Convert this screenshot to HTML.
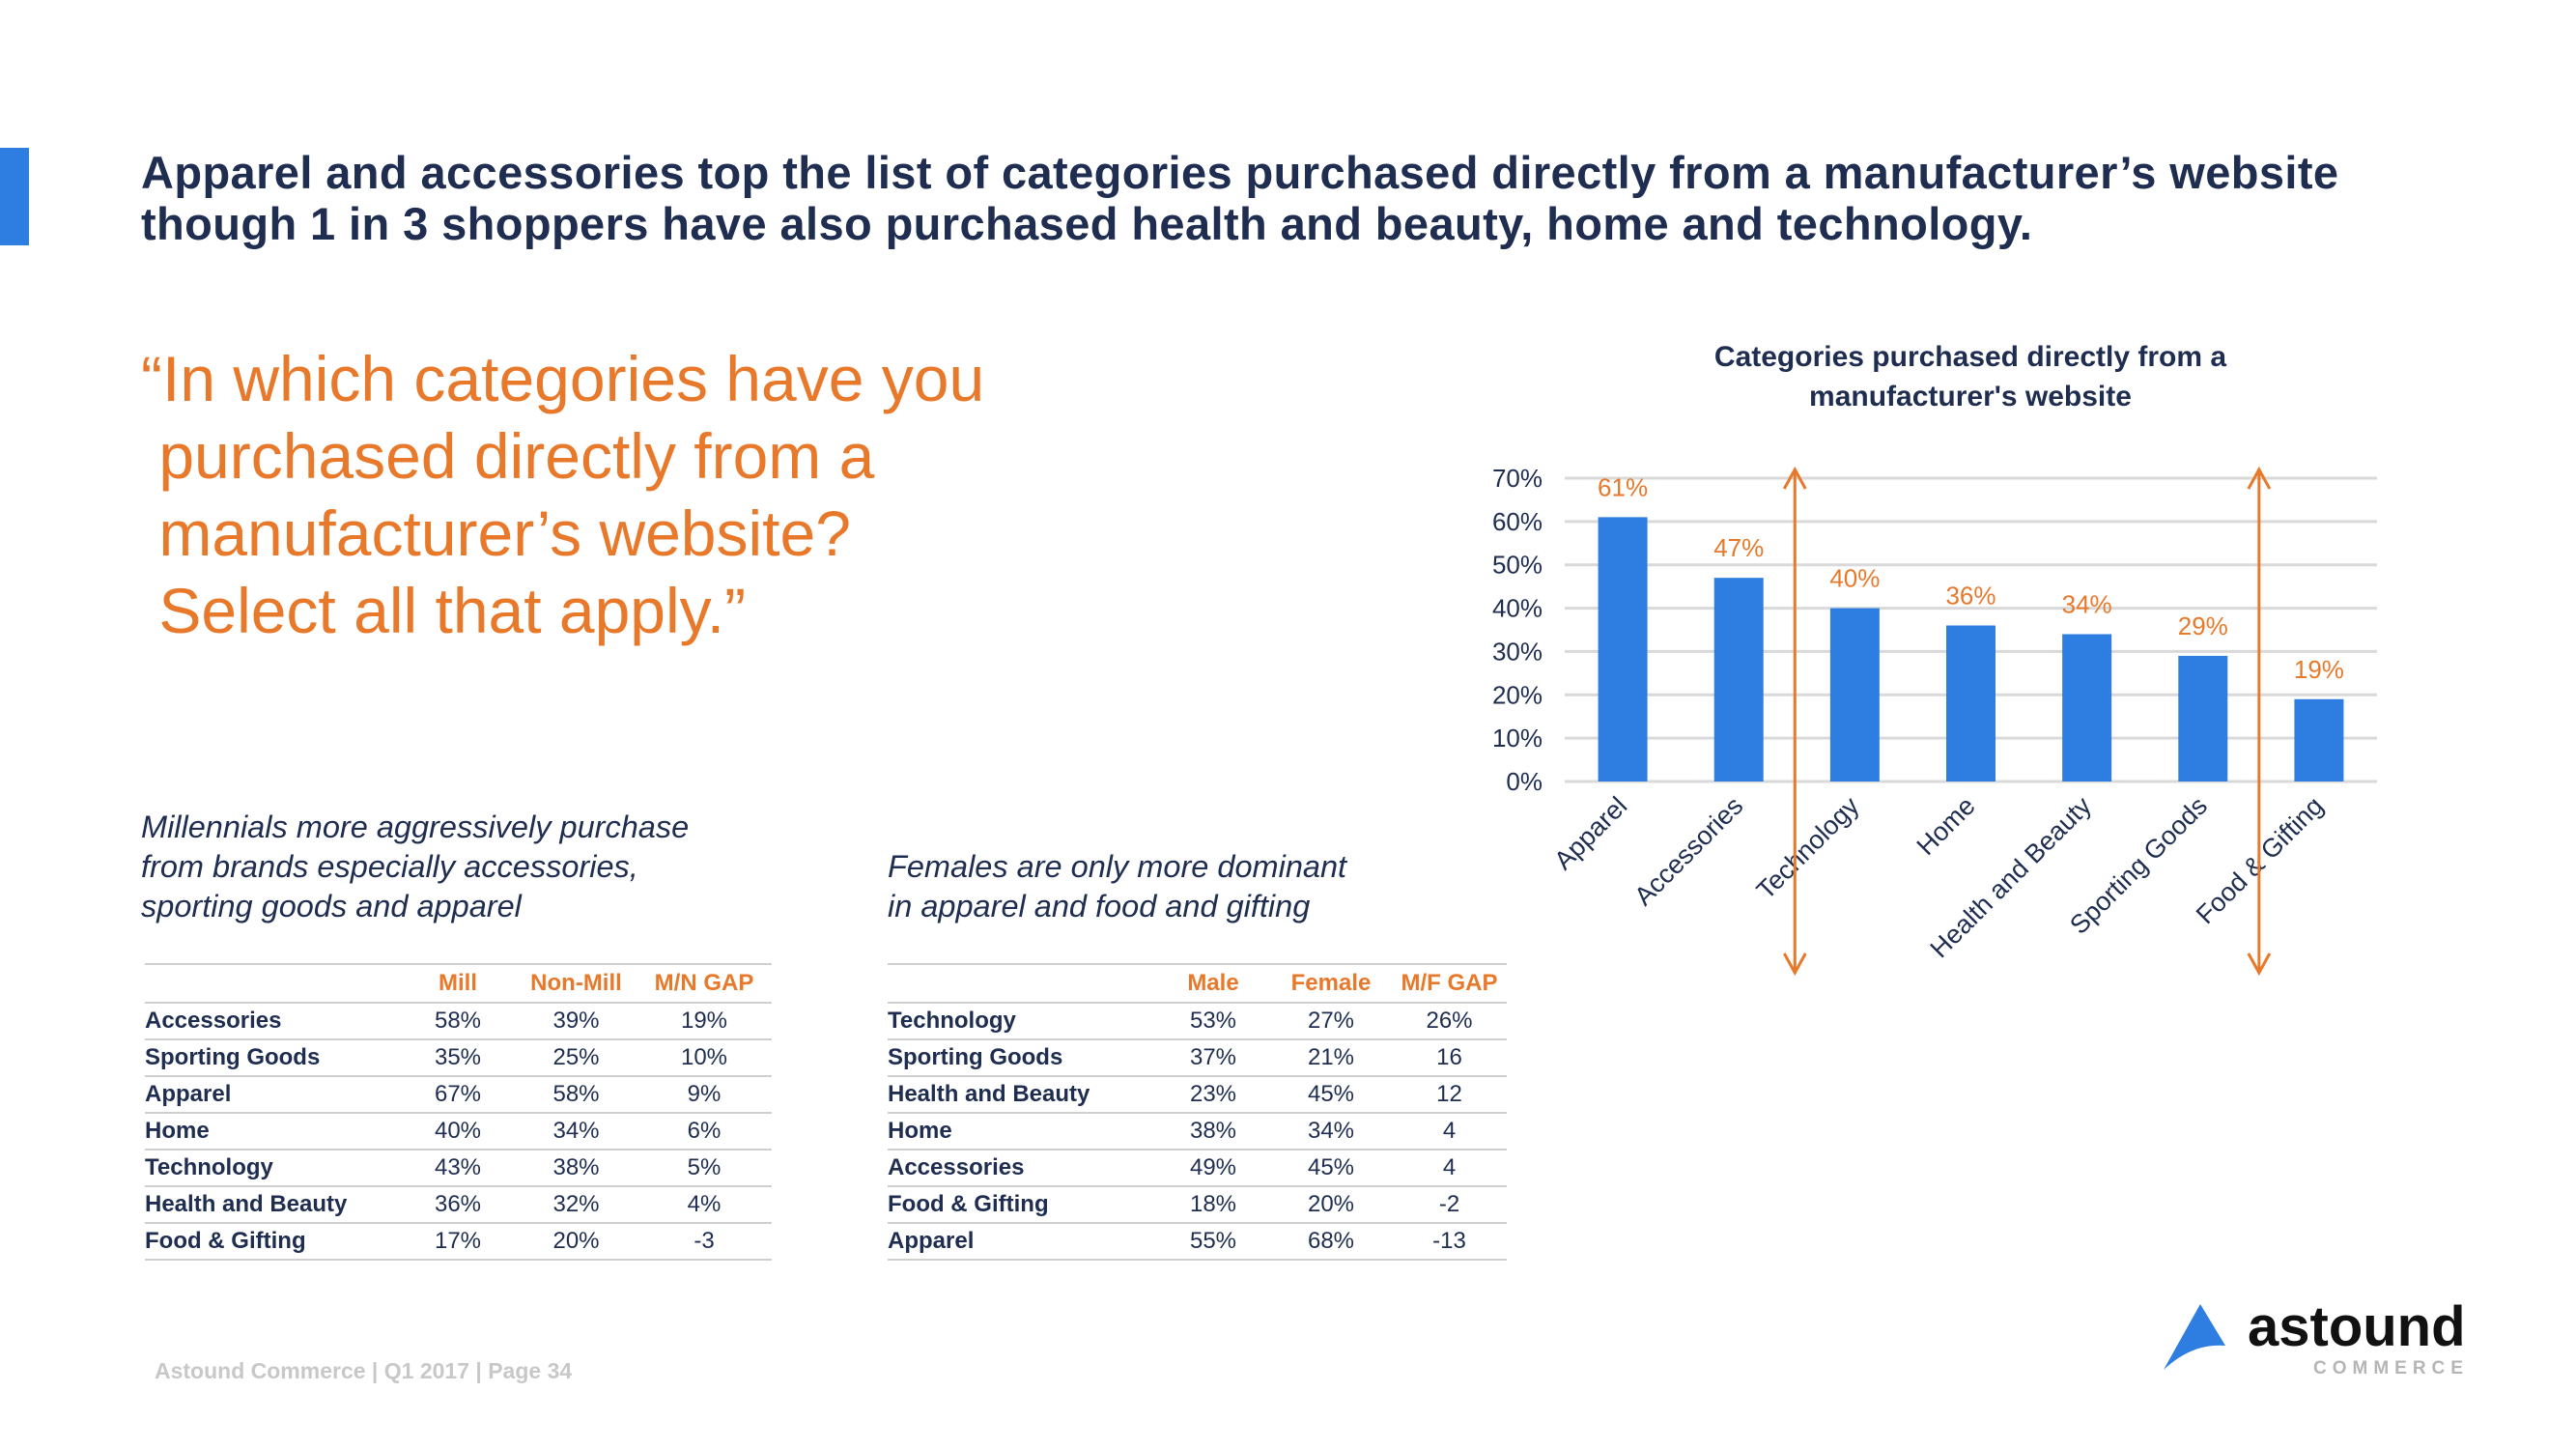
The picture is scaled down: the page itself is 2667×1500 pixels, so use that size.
<!DOCTYPE html>
<html><head><meta charset="utf-8">
<style>
body{margin:0;width:2667px;height:1500px;background:#fff;position:relative;overflow:hidden;font-family:"Liberation Sans",sans-serif;}
.a{position:absolute;white-space:nowrap;}
.title{left:146px;top:152px;font-size:47px;letter-spacing:0.4px;font-weight:bold;color:#1e2d50;line-height:53px;}
.quote{left:146px;top:352px;font-size:66px;color:#e8782a;line-height:80px;white-space:pre;}
.sub{font-size:32.5px;font-style:italic;color:#1e2d50;line-height:41px;}
table{position:absolute;border-collapse:collapse;font-size:24px;color:#1e2d50;}
td,th{height:36px;padding:0;border-bottom:2px solid #cfcfcf;text-align:center;}
th{color:#e8782a;font-weight:bold;height:38px;}
tr:first-child th{border-top:2px solid #cfcfcf;}
td.n{text-align:left;font-weight:bold;}
</style></head><body>
<div class="a" style="left:0;top:153px;width:30px;height:101px;background:#2e7de0;"></div>
<div class="a title">Apparel and accessories top the list of categories purchased directly from a manufacturer’s website<br>though 1 in 3 shoppers have also purchased health and beauty, home and technology.</div>
<div class="a quote">“In which categories have you
 purchased directly from a
 manufacturer’s website?
 Select all that apply.”</div>
<div class="a sub" style="left:146px;top:836px;">Millennials more aggressively purchase<br>from brands especially accessories,<br>sporting goods and apparel</div>
<div class="a sub" style="left:919px;top:877px;">Females are only more dominant<br>in apparel and food and gifting</div>

<table style="left:150px;top:997px;width:649px;">
<tr><th style="width:264px"></th><th style="width:120px">Mill</th><th style="width:125px">Non-Mill</th><th>M/N GAP</th></tr>
<tr><td class="n">Accessories</td><td>58%</td><td>39%</td><td>19%</td></tr>
<tr><td class="n">Sporting Goods</td><td>35%</td><td>25%</td><td>10%</td></tr>
<tr><td class="n">Apparel</td><td>67%</td><td>58%</td><td>9%</td></tr>
<tr><td class="n">Home</td><td>40%</td><td>34%</td><td>6%</td></tr>
<tr><td class="n">Technology</td><td>43%</td><td>38%</td><td>5%</td></tr>
<tr><td class="n">Health and Beauty</td><td>36%</td><td>32%</td><td>4%</td></tr>
<tr><td class="n">Food &amp; Gifting</td><td>17%</td><td>20%</td><td>-3</td></tr>
</table>
<table style="left:919px;top:997px;width:641px;">
<tr><th style="width:278px"></th><th style="width:118px">Male</th><th style="width:126px">Female</th><th>M/F GAP</th></tr>
<tr><td class="n">Technology</td><td>53%</td><td>27%</td><td>26%</td></tr>
<tr><td class="n">Sporting Goods</td><td>37%</td><td>21%</td><td>16</td></tr>
<tr><td class="n">Health and Beauty</td><td>23%</td><td>45%</td><td>12</td></tr>
<tr><td class="n">Home</td><td>38%</td><td>34%</td><td>4</td></tr>
<tr><td class="n">Accessories</td><td>49%</td><td>45%</td><td>4</td></tr>
<tr><td class="n">Food &amp; Gifting</td><td>18%</td><td>20%</td><td>-2</td></tr>
<tr><td class="n">Apparel</td><td>55%</td><td>68%</td><td>-13</td></tr>
</table>

<svg id="chart" class="a" style="left:0;top:0" width="2667" height="1500" xmlns="http://www.w3.org/2000/svg">
<text x="2040" y="379" text-anchor="middle" font-size="30" font-weight="bold" fill="#1e2d50">Categories purchased directly from a</text>
<text x="2040" y="420" text-anchor="middle" font-size="30" font-weight="bold" fill="#1e2d50">manufacturer's website</text>
</svg>

<div class="a" style="left:160px;top:1406px;font-size:23px;font-weight:bold;color:#c8c8c8;">Astound Commerce | Q1 2017 | Page 34</div>
<svg class="a" style="left:2240px;top:1340px" width="340" height="100">
<path d="M0,78 L38,10 L64,53 Q30,50 0,78 Z" fill="#2e7de0"/>
<text x="87" y="53" font-size="58" font-weight="bold" fill="#111">astound</text>
<text x="155" y="82" font-size="19" font-weight="bold" fill="#b5b5b5" letter-spacing="6">COMMERCE</text>
</svg>

<script>
const categories=["Apparel","Accessories","Technology","Home","Health and Beauty","Sporting Goods","Food & Gifting"];
const values=[61,47,40,36,34,29,19];
const yTicks=[0,10,20,30,40,50,60,70];
const arrowAfter=[1,5];
(function(){
const svg=document.getElementById('chart');const NS="http://www.w3.org/2000/svg";
const x0=1620,x1=2461,y0=809,y70=495;
const band=(x1-x0)/categories.length;
const y=v=>y0-(v/70)*(y0-y70);
const xc=i=>x0+band*(i+0.5);
function mk(t,a){const e=document.createElementNS(NS,t);for(const k in a)e.setAttribute(k,a[k]);svg.appendChild(e);return e;}
yTicks.forEach(t=>{
 const l=mk('line',{x1:x0,x2:x1,y1:y(t),y2:y(t),stroke:'#d9d9d9','stroke-width':3});
 
 
 const tx=mk('text',{x:1597,y:y(t)+9,'text-anchor':'end','font-size':26,fill:'#1e2d50'});tx.textContent=t+'%';
 
 
});
categories.forEach((c,i)=>{
 const bw=51;
 const r=mk('rect',{x:xc(i)-bw/2,y:y(values[i]),width:bw,height:y0-y(values[i]),fill:'#2e7de0'});
 
 
 const v=mk('text',{x:xc(i),y:y(values[i])-22,'text-anchor':'middle','font-size':26,fill:'#e8782a'});v.textContent=values[i]+'%';
 
 
 const lx=xc(i)+6,ly=836;
 const t=mk('text',{x:lx,y:ly,'text-anchor':'end','font-size':27,fill:'#1e2d50',transform:'rotate(-45 '+lx+' '+ly+')'});t.textContent=c;
 
 
});
arrowAfter.forEach(i=>{
 const ax=x0+band*(i+1)-2;
 const g=mk('path',{d:`M${ax},488 L${ax},1005 M${ax-11},506 L${ax},486 L${ax+11},506 M${ax-11},987 L${ax},1007 L${ax+11},987`,stroke:'#e8782a','stroke-width':3,fill:'none'});
 
 
});
})();
</script>
</body></html>
